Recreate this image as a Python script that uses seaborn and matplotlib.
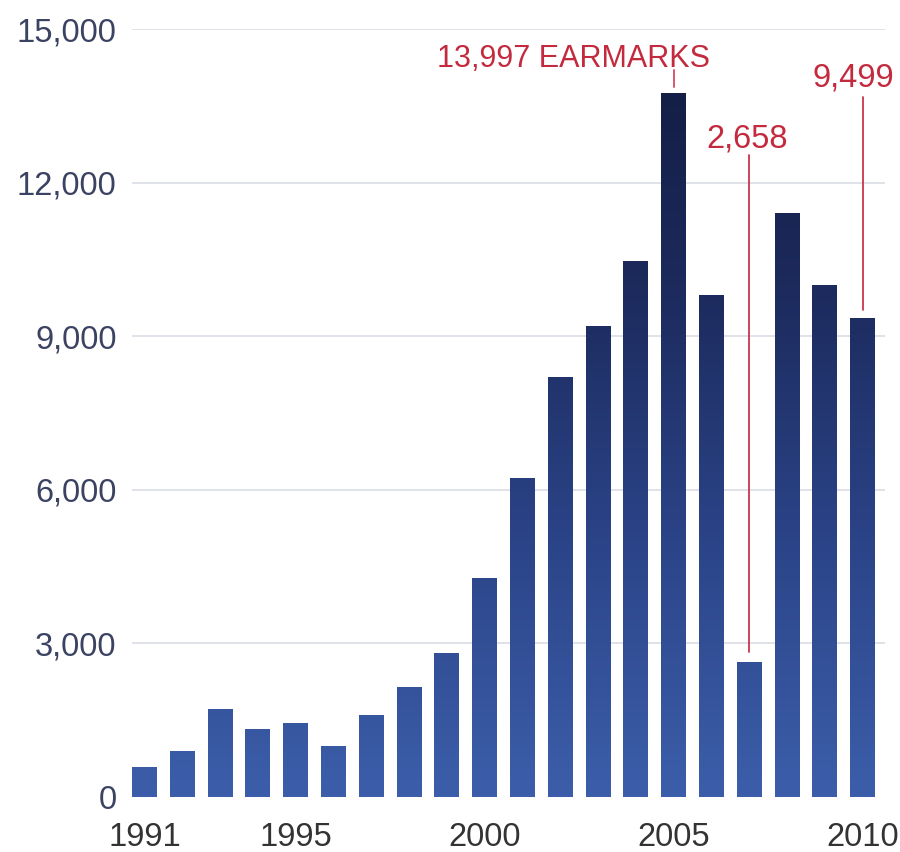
import numpy as np
import pandas as pd
import matplotlib
matplotlib.use("Agg")
import matplotlib.pyplot as plt
from matplotlib.colors import LinearSegmentedColormap
import seaborn as sns

# ---- data ----
years = list(range(1991, 2011))
earmarks = [590, 900, 1710, 1330, 1445, 1000, 1600, 2150, 2810,
            4280, 6230, 8200, 9200, 10470, 13750, 9800, 2640, 11400, 10000, 9360]
tick_years = [1991, 1995, 2000, 2005, 2010]
y_ticks = [0, 3000, 6000, 9000, 12000, 15000]
callouts = [  # (year, label)
    (2005, "13,997 EARMARKS"),
    (2007, "2,658"),
    (2010, "9,499"),
]

sns.set_theme(style="white")
plt.rcParams['font.family'] = ['Liberation Sans', 'DejaVu Sans']

df = pd.DataFrame({"year": [str(y) for y in years], "n": earmarks})

fig = plt.figure(figsize=(9, 8.52), dpi=100)
ax = fig.add_axes([132 / 900, 55 / 852, 753 / 900, 768 / 852])

sns.barplot(data=df, x="year", y="n", ax=ax, width=0.66, color="#2c4585",
            edgecolor="none", linewidth=0, zorder=3)

xlim = (-0.33, 19.59)
ax.set_xlim(*xlim)
ax.set_ylim(0, 15000)

# gradient fill clipped to bars (dark navy at top, lighter blue at bottom)
cmap = LinearSegmentedColormap.from_list("g", ["#3c5eaa", "#2b4488", "#1c2a5c", "#121b40"])
grad = np.linspace(0, 1, 256).reshape(-1, 1)
for p in ax.patches:
    im = ax.imshow(grad, cmap=cmap, aspect="auto", origin="lower",
                   extent=[xlim[0], xlim[1], 0, 15000], zorder=3.5)
    im.set_clip_path(p)
    p.set_facecolor("none")
ax.set_xlim(*xlim)
ax.set_ylim(0, 15000)

# grid
ax.set_yticks(y_ticks)
ax.set_yticklabels([f"{v:,}" for v in y_ticks])
for v in y_ticks[1:]:
    ax.axhline(v, color="#d6dae2", lw=1.1, zorder=1)

xt = [years.index(y) for y in tick_years]
ax.set_xticks(xt)
ax.set_xticklabels([str(y) for y in tick_years])

ax.tick_params(axis="y", labelsize=23.5, colors="#3b4262", length=0, pad=11)
ax.tick_params(axis="x", labelsize=23.5, colors="#333333", length=0, pad=18)
ax.set_xlabel("")
ax.set_ylabel("")
for s in ax.spines.values():
    s.set_visible(False)

red = "#c42a3e"
# callouts
i05 = years.index(2005)
ax.text(11.36, 14260, callouts[0][1], color=red, fontsize=22, ha="center", va="baseline", zorder=5)
ax.plot([i05, i05], [earmarks[i05] + 120, earmarks[i05] + 450], color="#d8586c", lw=1.4, zorder=5)

i07 = years.index(2007)
ax.text(15.95, 12680, callouts[1][1], color=red, fontsize=23.5, ha="center", va="baseline", zorder=5)
ax.plot([i07, i07], [earmarks[i07] + 190, 12540], color="#c8364a", lw=1.3, zorder=5)

i10 = years.index(2010)
ax.text(18.76, 13870, callouts[2][1], color=red, fontsize=23.5, ha="center", va="baseline",
        zorder=5, clip_on=False)
ax.plot([i10, i10], [earmarks[i10] + 150, 13670], color="#c8364a", lw=1.3, zorder=5)

fig.savefig("out.png", dpi=100, facecolor="white")
